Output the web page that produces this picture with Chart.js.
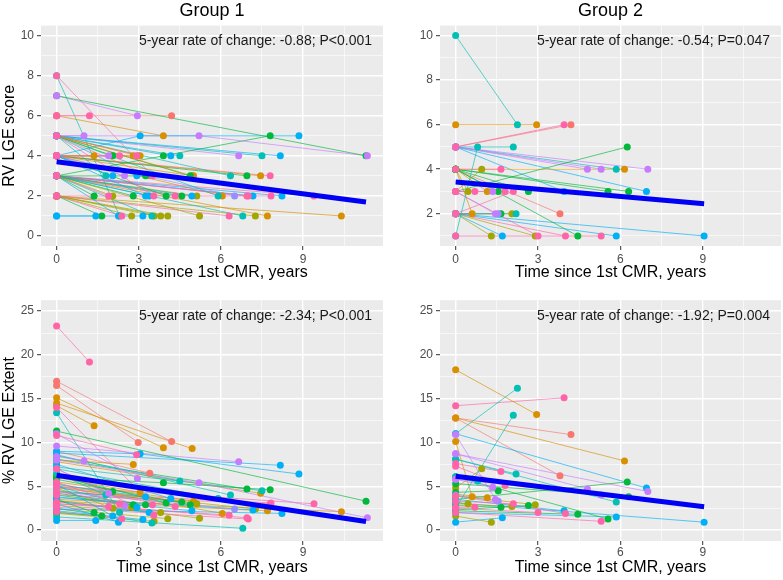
<!DOCTYPE html>
<html>
<head>
<meta charset="utf-8">
<script src="https://cdn.jsdelivr.net/npm/chart.js@4.4.1/dist/chart.umd.min.js"></script>
<style>
  html, body { margin: 0; padding: 0; background: #fff; }
  #wrap { position: relative; width: 783px; height: 580px; overflow: hidden; }
  canvas { position: absolute; }
</style>
</head>
<body>
<div id="wrap">
  <canvas id="g1score" width="392" height="290" style="left:0;top:0"></canvas>
  <canvas id="g2score" width="391" height="290" style="left:392px;top:0"></canvas>
  <canvas id="g1ext" width="392" height="290" style="left:0;top:290px"></canvas>
  <canvas id="g2ext" width="391" height="290" style="left:392px;top:290px"></canvas>
</div>
<script>
const FONT = "'Liberation Sans', Arial, sans-serif";

// ---- data (years since 1st CMR, per patient) ----
const g1Times = [
  [0,1.2],[0,11.3],[0,2.95],[0,4.2],[0,3.9],[0,4.95],[0,2.98],[0,1.0],[0,3.05,8.85],[0,5.2,11.35],
  [0,3.9,7.8],[0,8.17],[0,7.5],[0,6.65],[0,1.37],[0,1.9],[0,2.05],[0,2.3],[0,2.8],[0,2.92],
  [0,3.05],[0,4.17],[0,4.5],[0,3.4],[0,1.8],[0,2.05],[0,2.48],[0,2.93],[0,3.25],[0,4.88],
  [0,5.0],[0,6.35],[0,6.95],[0,7.45],[0,7.8],[0,1.37],[0,1.9],[0,2.05],[0,2.8],[0,3.25],
  [0,3.38],[0,3.55],[0,4.0],[0,4.33],[0,4.57],[0,4.94],[0,5.12],[0,5.9],[0,6.5],[0,6.95],
  [0,7.0],[0,7.17],[0,7.83],[0,8.23],[0,9.4],[0,1.43],[0,1.65],[0,2.26],[0,2.38],[0,2.74],
  [0,3.15],[0,3.48],[0,3.56],[0,3.8],[0,4.06],[0,5.22],[0,6.3],[0,6.8],[0,7.26],[0,7.7],
  [0,10.4],[0,2.3],[0,3.5],[0,6.05]
];
const g1Score = [
  [6,6],[7,4],[7,6],[6,6],[6,5],[5,3],[5,4],[5,5],[4,5,5],[5,5,4],
  [3,4,5],[5,4],[5,4],[5,4],[4,4],[4,4],[5,4],[4,4],[4,4],[4,4],
  [5,4],[5,4],[5,4],[5,3],[5,3],[4,3],[4,3],[5,3],[3,3],[5,3],
  [4,3],[5,3],[4,3],[4,3],[4,3],[3,2],[3,2],[3,2],[3,2],[4,2],
  [3,2],[5,2],[4,2],[3,2],[3,2],[3,2],[3,2],[5,2],[4,2],[3,2],
  [3,2],[3,2],[2,2],[3,2],[3,2],[1,1],[2,1],[3,1],[2,1],[2,1],
  [1,1],[3,1],[2,1],[2,1],[2,1],[3,1],[2,1],[3,1],[2,1],[3,1],
  [2,1],[8,1],[8,3],[4,2]
];
const g1Extent = [
  [23.3,19.2],[11.3,3.3],[11.0,5.9],[17.0,10.1],[15.1,9.4],[14.5,9.3],[16.5,10.0],[8.4,7.9],[9.0,8.7,6.4],[8.0,5.4,1.4],
  [6.0,5.4,4.6],[8.8,7.4],[7.2,4.5],[9.6,7.8],[14.2,11.9],[7.0,4.2],[6.3,4.4],[5.5,3.0],[8.0,7.5],[10.8,8.6],
  [6.0,4.3],[7.5,3.6],[8.5,5.6],[9.0,6.5],[6.5,4.0],[5.2,1.6],[4.5,2.8],[5.0,2.6],[4.2,2.9],[5.8,2.9],
  [5.5,3.3],[8.6,4.0],[8.1,4.7],[7.8,4.2],[4.0,3.0],[3.5,2.0],[3.0,2.7],[4.8,2.5],[4.0,2.9],[5.2,3.8],
  [3.3,2.0],[7.0,1.7],[6.2,3.1],[5.0,2.7],[4.5,3.2],[3.8,2.2],[5.0,3.0],[7.0,3.6],[4.4,2.4],[3.2,1.4],
  [2.6,1.25],[3.7,2.3],[4.3,3.1],[2.4,1.9],[5.0,3.0],[1.1,1.1],[2.0,1.6],[3.0,0.9],[2.1,1.3],[4.5,2.6],
  [2.2,1.2],[2.5,0.8],[1.9,1.0],[2.8,2.0],[2.4,1.3],[3.4,1.35],[3.0,1.7],[1.5,0.2],[4.8,2.4],[3.3,2.2],
  [3.5,2.1],[13.4,2.0],[14.0,2.9],[5.3,1.9]
];

const g2Times = [
  [0,2.25],[0,2.95],[0,3.95],[0,4.2],[0,0.8],[0,2.1],[0,6.25],[0,0.95],[0,1.65],[0,4.8],
  [0,5.3],[0,5.85],[0,6.15],[0,7.0],[0,0.45],[0,0.7],[0,1.15],[0,1.35],[0,1.55],[0,1.8],
  [0,2.1],[0,2.65],[0,5.55],[0,6.3],[0,6.95],[0,0.6],[0,1.45],[0,1.55],[0,1.65],[0,2.05],
  [0,2.2],[0,3.8],[0,1.3],[0,1.7],[0,2.9],[0,3.0],[0,4.0],[0,4.45],[0,5.3],[0,5.85],
  [0,9.05],[0,3.95]
];
const g2Score = [
  [10,6],[6,6],[5,6],[5,6],[1,5],[5,5],[3,5],[3,4],[4,4],[5,4],
  [5,4],[5,4],[4,4],[5,4],[4,3],[3,3],[4,3],[3,3],[4,3],[3,3],
  [2,3],[4,3],[4,3],[4,3],[5,3],[4,2],[3,2],[2,2],[2,2],[2,2],
  [2,2],[4,2],[2,1],[2,1],[2,1],[3,1],[2,1],[4,1],[1,1],[2,1],
  [2,1],[5,3]
];
const g2Extent = [
  [11.0,16.2],[18.3,13.2],[14.2,15.1],[12.8,10.9],[6.1,5.6],[2.5,13.1],[3.5,5.5],[4.8,7.0],[7.6,6.7],[8.7,4.7],
  [5.8,4.0],[8.1,3.2],[12.8,7.9],[8.7,4.4],[3.2,3.0],[2.6,2.6],[4.1,3.7],[5.8,4.9],[4.3,4.5],[7.3,5.1],
  [3.3,3.0],[2.3,2.8],[6.1,1.25],[5.3,3.8],[11.0,4.8],[10.1,3.8],[10.9,3.5],[4.0,3.3],[2.8,2.6],[3.0,2.7],
  [8.1,6.4],[12.8,6.2],[1.6,0.9],[0.9,1.4],[3.9,2.9],[2.5,2.0],[3.9,1.9],[2.2,1.8],[2.0,1.0],[2.0,1.5],
  [3.1,0.9],[3.5,2.2]
];

// fitted mean trajectory (two ends)
const g1FitTimes = [0, 11.3];
const g2FitTimes = [0, 9.05];
const g1ScoreFit = [3.70, 1.70];
const g2ScoreFit = [3.42, 2.45];
const g1ExtentFit = [6.25, 0.97];
const g2ExtentFit = [6.15, 2.66];

const rateTexts = [
  '5-year rate of change: -0.88; P<0.001',
  '5-year rate of change: -0.54; P=0.047',
  '5-year rate of change: -2.34; P<0.001',
  '5-year rate of change: -1.92; P=0.004'
];

// tick positions: majors get labels, the rest are minor grid lines
const xTickValues = [0, 1.5, 3, 4.5, 6, 7.5, 9, 10.5];
const xMajorTicks = [0, 3, 6, 9];
const g1ScoreTicks = [0, 1, 2, 3, 4, 5, 6, 7, 8, 9, 10];
const g2ScoreTicks = [1, 2, 3, 4, 5, 6, 7, 8, 9, 10];
const scoreMajorTicks = [0, 2, 4, 6, 8, 10];
const extentTicks = [0, 2.5, 5, 7.5, 10, 12.5, 15, 17.5, 20, 22.5, 25];
const extentMajorTicks = [0, 5, 10, 15, 20, 25];

// ---- styling ----
// hue order, same as ggplot's default discrete palette (pinks are last, so drawn on top)
const HUE_ORDER = ['coral', 'orange', 'olive', 'green', 'teal', 'blue', 'lav', 'purple', 'pink'];
const PALETTE = {
  coral: '#F8766D', orange: '#D89000', olive: '#A3A500', green: '#00B83A',
  teal: '#00BFB4', blue: '#00B0F6', lav: '#9590FF', purple: '#C77CFF', pink: '#FF64A8'
};
const g1Colors = [
  'pink','green','purple','coral','orange','orange','coral','purple','blue','purple',
  'green','blue','teal','purple','orange','purple','green','pink','orange','pink',
  'orange','blue','teal','coral','teal','blue','purple','blue','green','green',
  'orange','teal','green','orange','pink','green','pink','olive','green','blue',
  'blue','pink','green','pink','green','blue','olive','teal','lav','pink',
  'pink','blue','pink','blue','pink','blue','green','blue','pink','olive',
  'blue','teal','olive','olive','olive','olive','pink','teal','olive','orange',
  'orange','teal','pink','orange'
];
const g2Colors = [
  'teal','orange','pink','coral','teal','teal','green','olive','pink','purple',
  'purple','teal','orange','purple','olive','pink','orange','purple','green','pink',
  'pink','green','green','green','blue','orange','purple','lav','green','olive',
  'teal','coral','olive','blue','olive','pink','pink','green','pink','blue',
  'blue','blue'
];

const panelBackground = {
  id: 'panelBackground',
  beforeDraw(chart) {
    const { ctx, chartArea: { left, top, width, height } } = chart;
    ctx.save();
    ctx.fillStyle = '#EBEBEB';
    ctx.fillRect(left, top, width, height);
    ctx.restore();
  }
};

const rateLabel = {
  id: 'rateLabel',
  afterDatasetsDraw(chart, args, opts) {
    const { ctx, chartArea: { right, top } } = chart;
    ctx.save();
    ctx.font = `14px ${FONT}`;
    ctx.fillStyle = '#1A1A1A';
    ctx.textAlign = 'right';
    ctx.textBaseline = 'middle';
    ctx.fillText(opts.text, right - 11, top + 16);
    ctx.restore();
  }
};

function axisGrid(majors) {
  const isMajor = (c) => c.tick && majors.includes(c.tick.value);
  return {
    color: (c) => isMajor(c) ? '#FFFFFF' : 'rgba(255,255,255,0.85)',
    lineWidth: (c) => isMajor(c) ? 1.4 : 0.7,
    tickColor: (c) => isMajor(c) ? '#333333' : 'rgba(0,0,0,0)',
    tickWidth: 1,
    tickLength: 4
  };
}

function buildDatasets(times, values, colorKeys, fitTimes, fitValues) {
  const sets = [{
    data: fitTimes.map((t, i) => ({ x: t, y: fitValues[i] })),
    showLine: true,
    borderColor: '#0000F5',
    borderWidth: 5,
    pointRadius: 0,
    order: 0
  }];
  const pts = [];
  times.forEach((ts, p) => {
    const col = PALETTE[colorKeys[p]];
    const d = ts.map((t, i) => ({ x: t, y: values[p][i] }));
    sets.push({ data: d, showLine: true, borderColor: col + 'B8', borderWidth: 0.9, pointRadius: 0, order: 2 });
    d.forEach(pt => pts.push({ pt, key: colorKeys[p] }));
  });
  pts.sort((a, b) => HUE_ORDER.indexOf(a.key) - HUE_ORDER.indexOf(b.key));
  sets.push({
    data: pts.map(o => o.pt),
    showLine: false,
    pointRadius: 3.5,
    pointBackgroundColor: pts.map(o => PALETTE[o.key]),
    pointBorderWidth: 0,
    order: 1
  });
  return sets;
}

function makePanel(id, p) {
  return new Chart(document.getElementById(id), {
    type: 'scatter',
    data: { datasets: buildDatasets(p.times, p.values, p.colors, p.fitTimes, p.fitValues) },
    options: {
      responsive: false,
      animation: false,
      events: [],
      layout: { padding: p.padding, autoPadding: false },
      plugins: {
        legend: { display: false },
        tooltip: { enabled: false },
        title: {
          display: !!p.title,
          text: p.title || '',
          fullSize: false,
          color: '#000',
          font: { family: FONT, size: 18, weight: 'normal' },
          padding: { top: 0, bottom: 4 }
        },
        rateLabel: { text: p.rate }
      },
      scales: {
        x: {
          type: 'linear',
          min: -0.57,
          max: p.xMax,
          border: { display: false },
          grid: axisGrid(xMajorTicks),
          afterBuildTicks: (s) => { s.ticks = xTickValues.map(v => ({ value: v })); },
          afterFit: (s) => { s.height = p.xHeight; },
          ticks: {
            autoSkip: false,
            maxRotation: 0,
            padding: p.xTickPad,
            color: '#4D4D4D',
            font: { family: FONT, size: 12 },
            callback: (v) => xMajorTicks.includes(v) ? String(v) : ''
          },
          title: {
            display: true,
            text: 'Time since 1st CMR, years',
            color: '#000',
            font: { family: FONT, size: 16 },
            padding: { top: 0, bottom: p.xTitlePad }
          }
        },
        y: {
          type: 'linear',
          min: p.yMin,
          max: p.yMax,
          border: { display: false },
          grid: axisGrid(p.yMajors),
          afterBuildTicks: (s) => { s.ticks = p.yTicks.map(v => ({ value: v })); },
          afterFit: (s) => { s.width = p.yWidth; },
          ticks: {
            autoSkip: false,
            padding: 3,
            color: '#4D4D4D',
            font: { family: FONT, size: 12 },
            callback: (v) => p.yMajors.includes(v) ? String(v) : ''
          },
          title: {
            display: !!p.yTitle,
            text: p.yTitle || '',
            color: '#000',
            font: { family: FONT, size: 16 },
            padding: { top: 0, bottom: 0 }
          }
        }
      }
    },
    plugins: [panelBackground, rateLabel]
  });
}

makePanel('g1score', {
  times: g1Times, values: g1Score, colors: g1Colors, fitTimes: g1FitTimes, fitValues: g1ScoreFit,
  title: 'Group 1', yTitle: 'RV LGE score', rate: rateTexts[0],
  xMax: 11.92, yMin: -0.5, yMax: 10.5, yTicks: g1ScoreTicks, yMajors: scoreMajorTicks,
  padding: { left: 0, right: 9, top: 0, bottom: 0 }, yWidth: 41, xHeight: 44, xTickPad: 2, xTitlePad: 8
});
makePanel('g2score', {
  times: g2Times, values: g2Score, colors: g2Colors, fitTimes: g2FitTimes, fitValues: g2ScoreFit,
  title: 'Group 2', yTitle: '', rate: rateTexts[1],
  xMax: 11.85, yMin: 0.55, yMax: 10.45, yTicks: g2ScoreTicks, yMajors: scoreMajorTicks,
  padding: { left: 0, right: 2, top: 0, bottom: 0 }, yWidth: 48, xHeight: 44, xTickPad: 2, xTitlePad: 8
});
makePanel('g1ext', {
  times: g1Times, values: g1Extent, colors: g1Colors, fitTimes: g1FitTimes, fitValues: g1ExtentFit,
  title: '', yTitle: '% RV LGE Extent', rate: rateTexts[2],
  xMax: 11.92, yMin: -1.25, yMax: 26.25, yTicks: extentTicks, yMajors: extentMajorTicks,
  padding: { left: 0, right: 9, top: 7, bottom: 0 }, yWidth: 41, xHeight: 39, xTickPad: 0, xTitlePad: 3
});
makePanel('g2ext', {
  times: g2Times, values: g2Extent, colors: g2Colors, fitTimes: g2FitTimes, fitValues: g2ExtentFit,
  title: '', yTitle: '', rate: rateTexts[3],
  xMax: 11.85, yMin: -1.25, yMax: 26.25, yTicks: extentTicks, yMajors: extentMajorTicks,
  padding: { left: 0, right: 2, top: 7, bottom: 0 }, yWidth: 48, xHeight: 39, xTickPad: 0, xTitlePad: 3
});
</script>
</body>
</html>
